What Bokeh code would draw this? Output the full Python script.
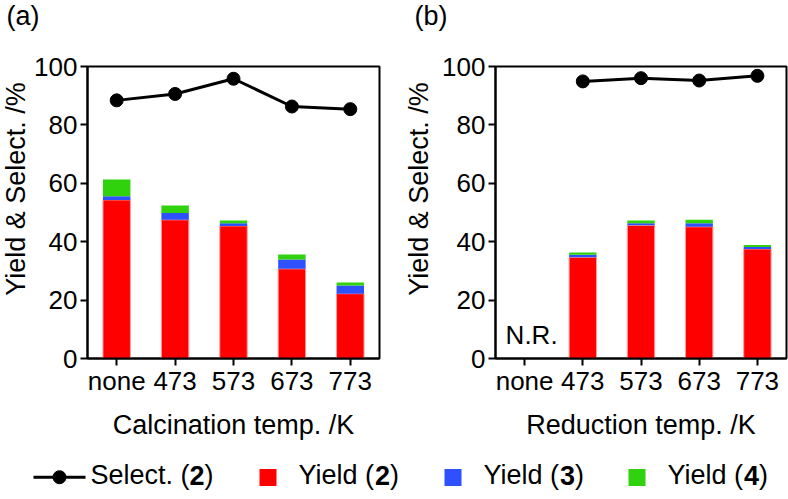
import math
from bokeh.plotting import figure
from bokeh.models import ColumnDataSource, FactorRange, Range1d, FixedTicker
from bokeh.layouts import column, row
from bokeh.embed import file_html
from bokeh.resources import INLINE
from bokeh.core.properties import value

FONT = "Liberation Sans"

# ---------------- data ----------------
categories = ["none", "473", "573", "673", "773"]

# (a) calcination temperature series
calc_yield2 = [54.3, 47.5, 45.4, 30.7, 22.2]
calc_yield3 = [1.3, 2.3, 0.9, 3.2, 2.8]
calc_yield4 = [5.7, 2.6, 1.0, 1.7, 1.0]
calc_select2 = [88.4, 90.6, 95.8, 86.3, 85.4]

# (b) reduction temperature series ("none" = no reaction)
red_yield2 = [0.0, 34.7, 45.6, 45.1, 37.5]
red_yield3 = [0.0, 0.8, 0.7, 1.2, 0.7]
red_yield4 = [0.0, 0.8, 1.0, 1.2, 0.7]
red_select2 = [float("nan"), 94.9, 96.0, 95.2, 96.8]

y_ticks = [0, 20, 40, 60, 80, 100]
nr_category = ["none"]
nr_text = ["N.R."]
y_title = "Yield & Select. /%"
panel_tags = ["(a)", "(b)"]
x_titles = ["Calcination temp. /K", "Reduction temp. /K"]

legend_items = [("Select. (", "2", ")"), ("Yield (", "2", ")"),
                ("Yield (", "3", ")"), ("Yield (", "4", ")")]

RED = "#ff0000"
BLUE = "#2f50ff"
GREEN = "#2fd20c"

# ---------------- layout constants (page pixels) ----------------
TOP_H = 40          # strip holding the panel tags
PANEL_H = 410       # panel figures (page y 40..450)
LEG_H = 49          # legend strip (page y 450..499)
FRAME_TOP, FRAME_BOTTOM = 66, 358


def strip(width, height, x0, y0):
    f = figure(width=width, height=height, x_range=Range1d(x0, x0 + width),
               y_range=Range1d(y0 + height, y0), output_backend="svg",
               toolbar_location=None, x_axis_type=None, y_axis_type=None,
               min_border=0)
    f.xgrid.visible = False
    f.ygrid.visible = False
    f.outline_line_color = None
    return f


def make_panel(xlabel, y2, y3, y4, sel, width, border_left, border_right, nr=False):
    p = figure(x_range=FactorRange(factors=categories), y_range=Range1d(0, 100),
               width=width, height=PANEL_H, output_backend="svg", toolbar_location=None,
               min_border_left=border_left, min_border_right=border_right,
               min_border_top=FRAME_TOP - TOP_H,
               min_border_bottom=TOP_H + PANEL_H - FRAME_BOTTOM)
    p.xgrid.visible = False
    p.ygrid.visible = False
    p.outline_line_color = "black"
    p.outline_line_width = 2
    p.outline_line_alpha = 1.0

    for ax in (p.xaxis[0], p.yaxis[0]):
        ax.axis_line_width = 2
        ax.axis_line_color = "black"
        ax.major_tick_line_width = 2
        ax.major_tick_line_color = "black"
        ax.major_tick_out = 7
        ax.major_tick_in = 0
        ax.minor_tick_out = 0
        ax.minor_tick_in = 0
        ax.major_label_text_font = FONT
        ax.major_label_text_font_size = "26px"
        ax.major_label_text_color = "black"
        ax.axis_label_text_font = FONT
        ax.axis_label_text_font_size = "27px"
        ax.axis_label_text_font_style = "normal"
        ax.axis_label_text_color = "black"
    p.yaxis.ticker = FixedTicker(ticks=y_ticks)
    p.yaxis.major_label_standoff = 3
    p.xaxis.major_label_standoff = 0
    p.xaxis.axis_label = xlabel
    p.xaxis.axis_label_standoff = 11

    src = ColumnDataSource(dict(cat=categories, y2=y2, y3=y3, y4=y4, sel=sel))
    p.vbar_stack(["y2", "y3", "y4"], x="cat", width=0.47, source=src,
                 fill_color=[RED, BLUE, GREEN],
                 line_color=["#ff9a9a", None, None], line_width=1)
    p.line(x="cat", y="sel", source=src, line_color="black", line_width=3)
    p.scatter(x="cat", y="sel", source=src, size=13, fill_color="black",
              line_color="black")

    if nr:
        p.text(x=nr_category, y=[0], text=nr_text, x_offset=7, y_offset=-24,
               text_font=value(FONT), text_font_size="26px", text_color="black",
               text_align="center", text_baseline="middle")
    return p


# panel tags strip
tags = strip(788, TOP_H, 0, 0)
tags.text(x=[6, 414], y=[15, 15], text=panel_tags, text_font=value(FONT),
          text_font_size="27px", text_color="black", text_align="left",
          text_baseline="middle")

# y-axis title strips
y_mid = (FRAME_TOP + FRAME_BOTTOM) / 2
ylab_a = strip(30, PANEL_H, 0, TOP_H)
ylab_a.text(x=[15], y=[y_mid], text=[y_title], angle=math.pi / 2,
            text_font=value(FONT), text_font_size="27px", text_color="black",
            text_align="center", text_baseline="middle")
ylab_b = strip(40, PANEL_H, 394, TOP_H)
ylab_b.text(x=[418], y=[y_mid], text=[y_title], angle=math.pi / 2,
            text_font=value(FONT), text_font_size="27px", text_color="black",
            text_align="center", text_baseline="middle")

pa = make_panel(x_titles[0], calc_yield2, calc_yield3, calc_yield4, calc_select2,
                364, 57, 15)
pb = make_panel(x_titles[1], red_yield2, red_yield3, red_yield4, red_select2,
                354, 61, 2, nr=True)

# ---------------- legend ----------------
W = {'S': .667, 'e': .556, 'l': .222, 'c': .5, 't': .278, '.': .278, ' ': .278,
     '(': .333, ')': .333, 'Y': .667, 'i': .222, 'd': .556, '2': .556, '3': .556,
     '4': .556}
LEG_FS = 27


def tw(s):
    return sum(W.get(ch, .556) for ch in s) * LEG_FS


leg = strip(788, LEG_H, 0, TOP_H + PANEL_H)
mid_y = 476.7
text_mid_y = 474.6
leg.line(x=[33, 85], y=[mid_y, mid_y], line_color="black", line_width=3)
leg.scatter(x=[59], y=[mid_y], size=13, fill_color="black", line_color="black")
leg.scatter(x=[267.5, 452.5, 636.5], y=[477, 477, 477], marker="square", size=17,
            fill_color=[RED, BLUE, GREEN], line_color=None)

text_starts = [90, 298, 483, 667]
for (pre, num, post), x0 in zip(legend_items, text_starts):
    kw = dict(text_font=value(FONT), text_font_size=f"{LEG_FS}px", text_color="black",
              text_align="left", text_baseline="middle")
    leg.text(x=[x0], y=[text_mid_y], text=[pre], **kw)
    x1 = x0 + tw(pre)
    leg.text(x=[x1], y=[text_mid_y], text=[num], text_font_style="bold", **kw)
    x2 = x1 + tw(num)
    leg.text(x=[x2], y=[text_mid_y], text=[post], **kw)

layout = column(tags, row(ylab_a, pa, ylab_b, pb), leg)
open("out.html", "w").write(file_html(layout, INLINE))
